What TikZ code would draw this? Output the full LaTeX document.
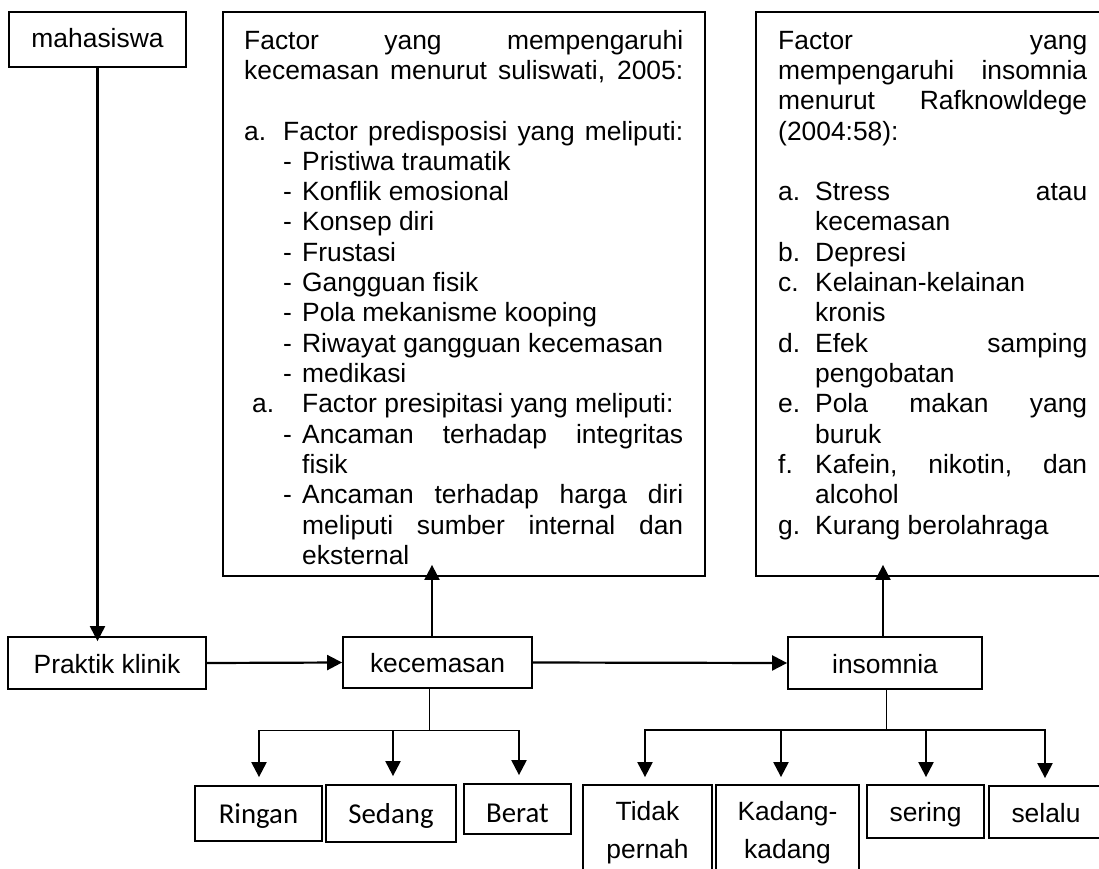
\documentclass[tikz,border=0pt]{standalone}
\usepackage{fontspec}
\setmainfont{Liberation Sans}
\newfontfamily\calib{Carlito}
\usetikzlibrary{arrows.meta}
\newcommand{\Sp}[2]{\makebox[#1][s]{#2}}
\newcommand{\Lab}[2]{\makebox[#1][l]{#2}}
\begin{document}
\begin{tikzpicture}[x=1pt,y=1pt,
  box/.style={draw, line width=1.8pt, inner sep=0pt,
    font=\fontsize{26.4}{30.3}\selectfont, text height=23pt, text depth=3pt},
  cbox/.style={box, font=\calib\fontsize{28.8}{34}\selectfont},
  frame/.style={draw, line width=1.8pt, inner sep=0pt},
  para/.style={anchor=north west, inner sep=0pt},
  twoline/.style={inner sep=0pt, align=center, font=\fontsize{26.4}{38}\selectfont},
  arr/.style={line width=2.2pt, -{Triangle[length=15pt,width=15pt]}},
  thinl/.style={line width=1pt},
  midl/.style={line width=1.6pt, line cap=rect}]
\useasboundingbox (0,0) rectangle (1099,-869);
\clip (0,0) rectangle (1099,-869);

% top row
\node[box, minimum width=177pt, minimum height=55pt, text height=21pt, text depth=4pt] (mah) at (97.5,-39.5) {mahasiswa};
\node[frame, minimum width=482pt, minimum height=564pt] (f1) at (464,-294) {};
\node[frame, minimum width=353pt, minimum height=564pt] (f2) at (932.5,-294) {};

\node[para] (f1t) at (244,-29) {\begin{minipage}[t]{439pt}\fontsize{26.4}{30.3}\selectfont
\hbox{\rule{0pt}{20pt}\Sp{439pt}{Factor yang mempengaruhi}}
\hbox{\Sp{439pt}{kecemasan menurut suliswati, 2005:}}
\hbox{}
\hbox{\Lab{39pt}{a.}\Sp{400pt}{Factor predisposisi yang meliputi:}}
\hbox{\hspace*{39pt}\Lab{19pt}{-}Pristiwa traumatik}
\hbox{\hspace*{39pt}\Lab{19pt}{-}Konflik emosional}
\hbox{\hspace*{39pt}\Lab{19pt}{-}Konsep diri}
\hbox{\hspace*{39pt}\Lab{19pt}{-}Frustasi}
\hbox{\hspace*{39pt}\Lab{19pt}{-}Gangguan fisik}
\hbox{\hspace*{39pt}\Lab{19pt}{-}Pola mekanisme kooping}
\hbox{\hspace*{39pt}\Lab{19pt}{-}Riwayat gangguan kecemasan}
\hbox{\hspace*{39pt}\Lab{19pt}{-}medikasi}
\hbox{\hspace*{8pt}\Lab{50pt}{a.}Factor presipitasi yang meliputi:}
\hbox{\hspace*{39pt}\Lab{19pt}{-}\Sp{381pt}{Ancaman terhadap integritas}}
\hbox{\hspace*{58pt}fisik}
\hbox{\hspace*{39pt}\Lab{19pt}{-}\Sp{381pt}{Ancaman terhadap harga diri}}
\hbox{\hspace*{58pt}\Sp{381pt}{meliputi sumber internal dan}}
\hbox{\hspace*{58pt}eksternal}
\end{minipage}};

\node[para] (f2t) at (778,-29) {\begin{minipage}[t]{309pt}\fontsize{26.4}{30.3}\selectfont
\hbox{\rule{0pt}{20pt}\Sp{309pt}{Factor yang}}
\hbox{\Sp{309pt}{mempengaruhi insomnia}}
\hbox{\Sp{309pt}{menurut Rafknowldege}}
\hbox{(2004:58):}
\hbox{}
\hbox{\Lab{37pt}{a.}\Sp{272pt}{Stress atau}}
\hbox{\hspace*{37pt}kecemasan}
\hbox{\Lab{37pt}{b.}Depresi}
\hbox{\Lab{37pt}{c.}Kelainan-kelainan}
\hbox{\hspace*{37pt}kronis}
\hbox{\Lab{37pt}{d.}\Sp{272pt}{Efek samping}}
\hbox{\hspace*{37pt}pengobatan}
\hbox{\Lab{37pt}{e.}\Sp{272pt}{Pola makan yang}}
\hbox{\hspace*{37pt}buruk}
\hbox{\Lab{37pt}{f.}\Sp{272pt}{Kafein, nikotin, dan}}
\hbox{\hspace*{37pt}alcohol}
\hbox{\Lab{37pt}{g.}Kurang berolahraga}
\end{minipage}};

% middle row
\node[box, minimum width=198pt, minimum height=52pt] (prak) at (107,-663) {Praktik klinik};
\node[box, minimum width=189pt, minimum height=51pt] (kec) at (437.5,-662.5) {kecemasan};
\node[box, minimum width=194pt, minimum height=52pt] (ins) at (885,-663) {insomnia};

% bottom row
\node[cbox, minimum width=127pt, minimum height=55pt] (rin) at (258.5,-813.5) {Ringan};
\node[cbox, minimum width=130pt, minimum height=57pt] (sed) at (391,-813.5) {Sedang};
\node[cbox, minimum width=107pt, minimum height=50pt, text height=27pt, text depth=1pt] (ber) at (517.5,-809) {Berat};
\node[frame, minimum width=129pt, minimum height=115pt] (tid) at (647.5,-842.5) {};
\node[twoline] (tidt) at (647.5,-833) {Tidak\\pernah};
\node[frame, minimum width=143pt, minimum height=115pt] (kad) at (787.5,-842.5) {};
\node[twoline] (kadt) at (787.5,-833) {Kadang-\\kadang};
\node[box, minimum width=117pt, minimum height=53pt] (ser) at (925.5,-811.5) {sering};
\node[box, minimum width=114pt, minimum height=52pt] (sel) at (1046,-812) {selalu};

% connectors
\draw[arr, shorten >=-5pt] (mah.south) -- (mah.south |- prak.north);
\draw[arr] (prak.east) -- (kec.west);
\draw[arr] (kec.east) -- (ins.west);
\draw[arr, shorten >=-12pt] ([xshift=-5.5pt]kec.north) -- ([xshift=-5.5pt]kec.north |- f1.south);
\draw[arr, shorten >=-12pt] ([xshift=-2pt]ins.north) -- ([xshift=-2pt]ins.north |- f2.south);

% kecemasan tree
\coordinate (kj) at (429,-730);
\coordinate (k1) at (259,-730);
\coordinate (k2) at (393,-730);
\coordinate (k3) at (519,-730);
\draw[thinl] ([xshift=-8.5pt]kec.south) -- (kj);
\draw[thinl] (k1) -- (k3);
\draw[arr, shorten >=8pt] (k1) -- (k1 |- rin.north);
\draw[arr, shorten >=8pt] (k2) -- (k2 |- sed.north);
\draw[arr, shorten >=8pt] (k3) -- (k3 |- ber.north);

% insomnia tree
\coordinate (ij) at (886,-730);
\coordinate (i1) at (645,-730);
\coordinate (i2) at (781,-730);
\coordinate (i3) at (926,-730);
\coordinate (i4) at (1045,-730);
\draw[thinl] ([xshift=1pt]ins.south) -- (ij);
\draw[midl] (i1) -- (i4);
\draw[arr, shorten >=7pt] (i1) -- (i1 |- tid.north);
\draw[arr, shorten >=7pt] (i2) -- (i2 |- kad.north);
\draw[arr, shorten >=7pt] (i3) -- (i3 |- ser.north);
\draw[arr, shorten >=7pt] (i4) -- (i4 |- sel.north);
\end{tikzpicture}
\end{document}
